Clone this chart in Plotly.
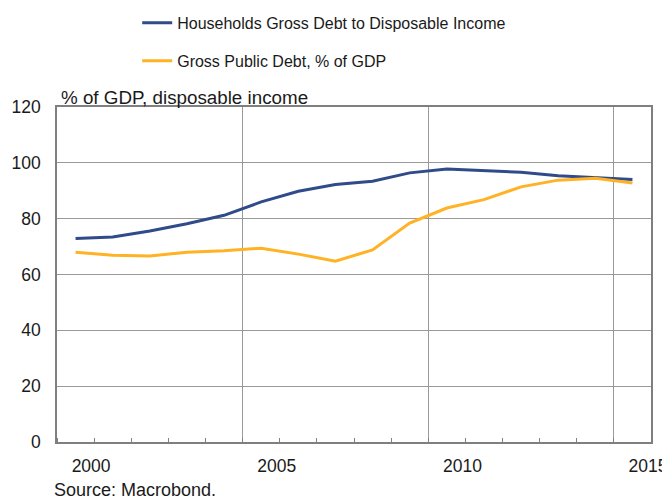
import plotly.graph_objects as go

# Annual data, 1999-2014 (plotted at mid-year)
years = [str(y) for y in range(1999, 2015)]
households_debt = [72.9, 73.4, 75.6, 78.2, 81.2, 86.0, 89.8, 92.2,
                   93.4, 96.4, 97.8, 97.2, 96.6, 95.4, 94.8, 94.0]
public_debt = [68.0, 66.9, 66.6, 68.0, 68.5, 69.4, 67.3, 64.8,
               68.8, 78.4, 83.8, 86.8, 91.4, 93.8, 94.5, 92.8]

tick_years = ["2000", "2005", "2010", "2015"]
grid_years = ["2004", "2009", "2014"]
y_ticks = [0, 20, 40, 60, 80, 100, 120]

name_households = "Households Gross Debt to Disposable Income"
name_public = "Gross Public Debt, % of GDP"
y_title = "% of GDP, disposable income"
source_text = "Source: Macrobond."

BLUE = "#2F4B8A"
ORANGE = "#FFB224"
FONT = "Liberation Sans, Arial, sans-serif"
TXT = "#1a1a1a"
FRAME = "#7f7f7f"
GRID = "#9a9a9a"

fig = go.Figure()
fig.add_trace(go.Scatter(
    x=years, y=households_debt, name=name_households, mode="lines",
    xperiod="M12", xperiodalignment="middle",
    line=dict(color=BLUE, width=3), legend="legend", xaxis="x", yaxis="y"))
fig.add_trace(go.Scatter(
    x=years, y=public_debt, name=name_public, mode="lines",
    xperiod="M12", xperiodalignment="middle",
    line=dict(color=ORANGE, width=3), legend="legend2", xaxis="x2", yaxis="y"))

x_range = ["1999-01-01", "2015-01-01"]

# the page adds an 8px body margin, so the figure is 662x492
fig.update_layout(
    width=662, height=492,
    margin=dict(l=49, r=19, t=99, b=58, pad=0, autoexpand=False),
    paper_bgcolor="white", plot_bgcolor="white",
    font=dict(family=FONT, size=17, color=TXT),
    showlegend=True,
    legend=dict(x=0.135, y=1.2515, xref="paper", yref="paper",
                xanchor="left", yanchor="middle",
                font=dict(size=16, color=TXT), bgcolor="rgba(0,0,0,0)"),
    legend2=dict(x=0.135, y=1.1377, xref="paper", yref="paper",
                 xanchor="left", yanchor="middle",
                 font=dict(size=16, color=TXT), bgcolor="rgba(0,0,0,0)"),
    xaxis=dict(
        type="date", range=x_range,
        tickmode="array", tickvals=[y + "-01-01" for y in tick_years],
        ticktext=tick_years, ticks="", showgrid=False,
        tickfont=dict(size=17.5, color=TXT),
        ticklabelstandoff=7, ticklabelshift=-3,
        showline=True, linecolor=FRAME, linewidth=1.6, mirror=True,
        minor=dict(tickmode="linear", tick0="1999-01-01", dtick="M12",
                   ticks="inside", ticklen=4, tickcolor=FRAME, tickwidth=1,
                   showgrid=False),
        zeroline=False, fixedrange=True),
    xaxis2=dict(
        type="date", range=x_range, overlaying="x", matches="x",
        tickmode="array", tickvals=[y + "-01-01" for y in grid_years],
        showticklabels=False, ticks="", showgrid=True,
        gridcolor=GRID, gridwidth=1, showline=False, zeroline=False),
    yaxis=dict(
        range=[0, 120], tickmode="array", tickvals=y_ticks, ticks="",
        showgrid=True, gridcolor=GRID, gridwidth=1,
        tickfont=dict(size=17.5, color=TXT), ticklabelstandoff=11,
        showline=True, linecolor=FRAME, linewidth=1.6, mirror=True,
        zeroline=False),
    annotations=[
        dict(text=y_title, xref="paper", yref="paper", x=0, y=1,
             xanchor="left", yanchor="bottom", xshift=2, yshift=-3,
             showarrow=False, font=dict(size=18.8, color=TXT)),
        dict(text=source_text, xref="paper", yref="paper", x=0, y=0,
             xanchor="left", yanchor="middle", xshift=-5, yshift=-48,
             showarrow=False, font=dict(size=18, color=TXT)),
    ],
)

fig.write_html("out.html")
